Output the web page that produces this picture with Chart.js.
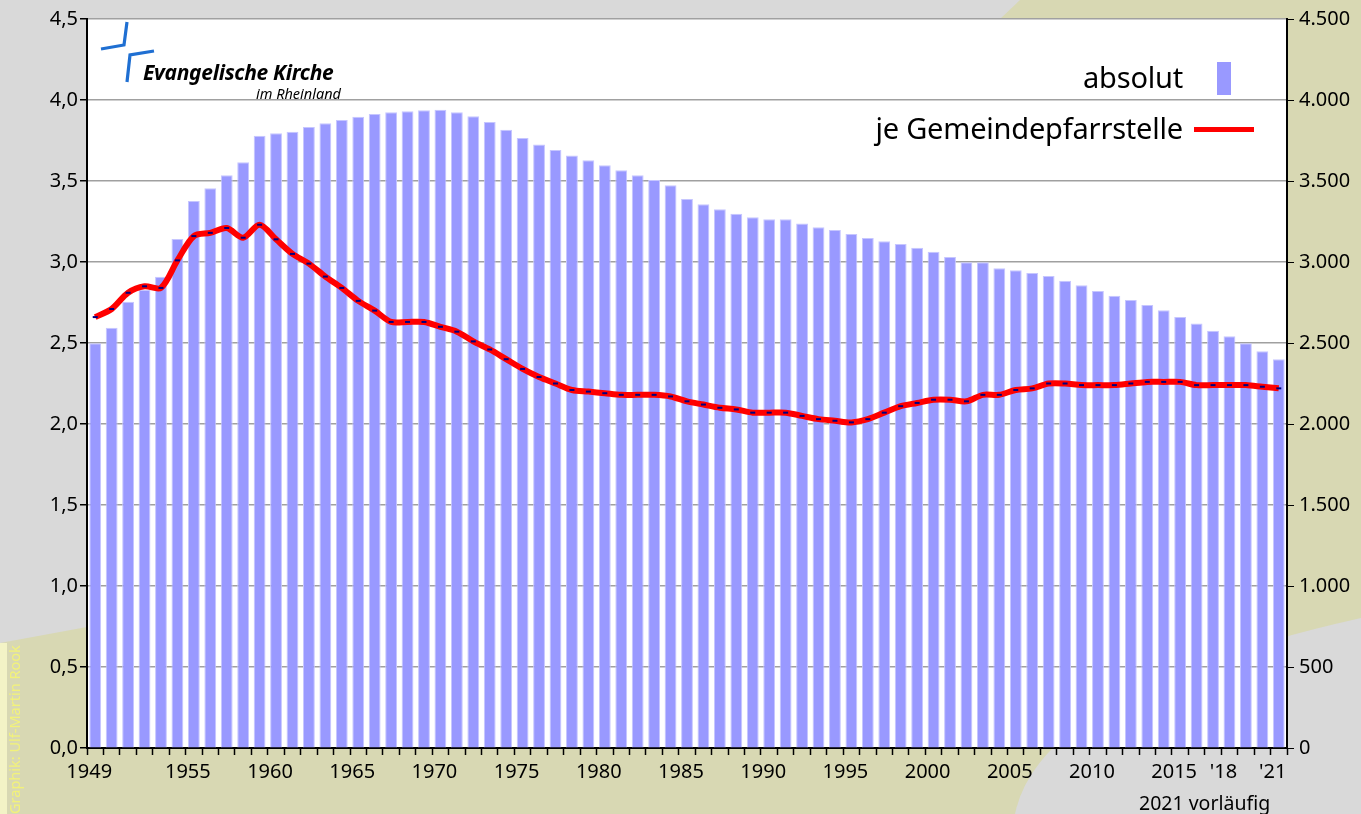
<!DOCTYPE html>
<html lang="de">
<head>
<meta charset="utf-8">
<title>Gemeindeglieder absolut und je Gemeindepfarrstelle</title>
<script src="https://cdn.jsdelivr.net/npm/chart.js@4/dist/chart.umd.min.js"></script>
<style>
  body { margin: 0; width: 1361px; height: 814px; overflow: hidden; position: relative;
         background: #d9d9d9; font-family: "Noto Sans", sans-serif; }
  #bg, #logo { position: absolute; left: 0; top: 0; }
  #chartBox { position: absolute; left: 0; top: 0; width: 1361px; height: 814px; }
  .txt { position: absolute; color: #000; white-space: nowrap; }
  .leg { position: absolute; right: 178px; font-size: 29px; line-height: 32px; letter-spacing: -0.2px; }
</style>
</head>
<body>
<svg id="bg" width="1361" height="814">
  <path d="M1020,0 L1361,0 L1361,618 Q1040,690 1015,814 L0,814 L0,643 L87,627 L1000,19 Z" fill="#d8d8b3"/>
  <rect x="0" y="643" width="7" height="171" fill="#f3f3c6"/>
</svg>
<div id="chartBox"><canvas id="chart" width="1361" height="814"></canvas></div>

<svg id="logo" width="360" height="110">
  <polyline points="101,49 124,45 127,22" fill="none" stroke="#1f6fd2" stroke-width="3.2"/>
  <polyline points="154,51 130,55 127,82" fill="none" stroke="#1f6fd2" stroke-width="3.2"/>
</svg>
<div class="txt" style="left:143px;top:58px;font-size:21px;font-weight:bold;font-style:italic;letter-spacing:-0.3px;">Evangelische Kirche</div>
<div class="txt" style="right:1020px;top:83px;font-size:14.5px;font-style:italic;">im Rheinland</div>

<div class="leg txt" style="top:61px;">absolut</div>
<div class="leg txt" style="top:112px;">je Gemeindepfarrstelle</div>
<div style="position:absolute;left:1217px;top:62px;width:14px;height:33px;background:#9999ff;"></div>
<div style="position:absolute;left:1194px;top:127px;width:60px;height:5px;background:#ff0000;"></div>

<div class="txt" style="left:1139px;top:789px;font-size:19.5px;">2021 vorläufig</div>
<div class="txt" style="left:4px;top:814px;font-size:14.5px;color:#f2f27a;transform-origin:0 0;transform:rotate(-90deg);">Graphik: Ulf-Martin Rook</div>

<script>
// Jahre 1949 - 2021
const years = [];
for (let y = 1949; y <= 2021; y++) years.push(y);

// Gemeindeglieder absolut (rechte Achse)
const absolut = [
  2498, 2594, 2755, 2827, 2909, 3142, 3377, 3455, 3535, 3615,
  3780, 3794, 3804, 3833, 3856, 3877, 3897, 3914, 3924, 3930,
  3936, 3940, 3924, 3899, 3864, 3817, 3765, 3726, 3691, 3658,
  3628, 3597, 3566, 3535, 3506, 3473, 3389, 3356, 3325, 3298,
  3276, 3264, 3264, 3237, 3214, 3198, 3173, 3148, 3128, 3111,
  3088, 3064, 3031, 2998, 2998, 2961, 2949, 2932, 2914, 2885,
  2856, 2821, 2792, 2765, 2735, 2702, 2660, 2621, 2576, 2541,
  2498, 2449, 2399
];

// je Gemeindepfarrstelle (linke Achse)
const jePfarrstelle = [
  2.66, 2.71, 2.81, 2.85, 2.84, 3.01, 3.16, 3.18, 3.21, 3.15,
  3.23, 3.14, 3.05, 2.99, 2.91, 2.84, 2.76, 2.70, 2.63, 2.63,
  2.63, 2.60, 2.57, 2.51, 2.46, 2.40, 2.34, 2.29, 2.25, 2.21,
  2.20, 2.19, 2.18, 2.18, 2.18, 2.17, 2.14, 2.12, 2.10, 2.09,
  2.07, 2.07, 2.07, 2.05, 2.03, 2.02, 2.01, 2.03, 2.07, 2.11,
  2.13, 2.15, 2.15, 2.14, 2.18, 2.18, 2.21, 2.22, 2.25, 2.25,
  2.24, 2.24, 2.24, 2.25, 2.26, 2.26, 2.26, 2.24, 2.24, 2.24,
  2.24, 2.23, 2.22
];

const labelYears = [1949, 1955, 1960, 1965, 1970, 1975, 1980, 1985, 1990, 1995, 2000, 2005, 2010, 2015];
const shortYears = { 2018: "'18", 2021: "'21" };

const tickFont = { family: '"Noto Sans", sans-serif', size: 20 };

const plotBackground = {
  id: 'plotBackground',
  beforeDraw(chart) {
    const { ctx, chartArea: a } = chart;
    ctx.save();
    ctx.fillStyle = '#ffffff';
    ctx.fillRect(a.left, a.top, a.right - a.left, a.bottom - a.top);
    ctx.restore();
  }
};

new Chart(document.getElementById('chart'), {
  type: 'bar',
  data: {
    labels: years,
    datasets: [
      {
        type: 'line',
        label: 'je Gemeindepfarrstelle',
        data: jePfarrstelle,
        yAxisID: 'y',
        borderColor: '#ff0000',
        borderWidth: 6,
        tension: 0.3,
        pointStyle: 'line',
        pointRadius: 2.5,
        pointBorderWidth: 2,
        pointBorderColor: '#000080',
        pointBackgroundColor: '#000080',
        order: 0
      },
      {
        label: 'absolut',
        data: absolut,
        yAxisID: 'y1',
        backgroundColor: '#9999ff',
        borderColor: '#c6c6ff',
        borderWidth: 1,
        barPercentage: 0.72,
        categoryPercentage: 1,
        order: 1
      }
    ]
  },
  options: {
    responsive: false,
    animation: false,
    layout: { padding: { top: 19, left: 0, right: 0, bottom: 0 } },
    plugins: {
      legend: { display: false },
      tooltip: { enabled: false }
    },
    scales: {
      x: {
        afterFit: s => { s.height = 66; },
        border: { color: '#000', width: 2 },
        grid: { drawOnChartArea: false, tickColor: '#000', tickLength: 7, tickWidth: 1.5 },
        ticks: {
          color: '#000',
          font: tickFont,
          autoSkip: false,
          maxRotation: 0,
          padding: 5,
          labelOffset: -6,
          callback: function (v, i) {
            const yr = years[i];
            if (shortYears[yr]) return shortYears[yr];
            return labelYears.includes(yr) ? String(yr) : '';
          }
        }
      },
      y: {
        position: 'left',
        min: 0, max: 4.5,
        afterFit: s => { s.width = 87; },
        border: { color: '#000', width: 2 },
        grid: { color: '#a0a0a0', lineWidth: 1.5, tickColor: '#000', tickLength: 7 },
        ticks: {
          stepSize: 0.5,
          color: '#000',
          font: tickFont,
          padding: 2,
          callback: v => v.toFixed(1).replace('.', ',')
        }
      },
      y1: {
        position: 'right',
        min: 0, max: 4500,
        afterFit: s => { s.width = 74; },
        border: { color: '#000', width: 2 },
        grid: { drawOnChartArea: false, tickColor: '#000', tickLength: 7 },
        ticks: {
          stepSize: 500,
          color: '#000',
          font: tickFont,
          padding: 5,
          callback: v => {
            if (v < 1000) return String(v);
            const rest = String(v % 1000).padStart(3, '0');
            return Math.floor(v / 1000) + '.' + rest;
          }
        }
      }
    }
  },
  plugins: [plotBackground]
});
</script>
</body>
</html>
